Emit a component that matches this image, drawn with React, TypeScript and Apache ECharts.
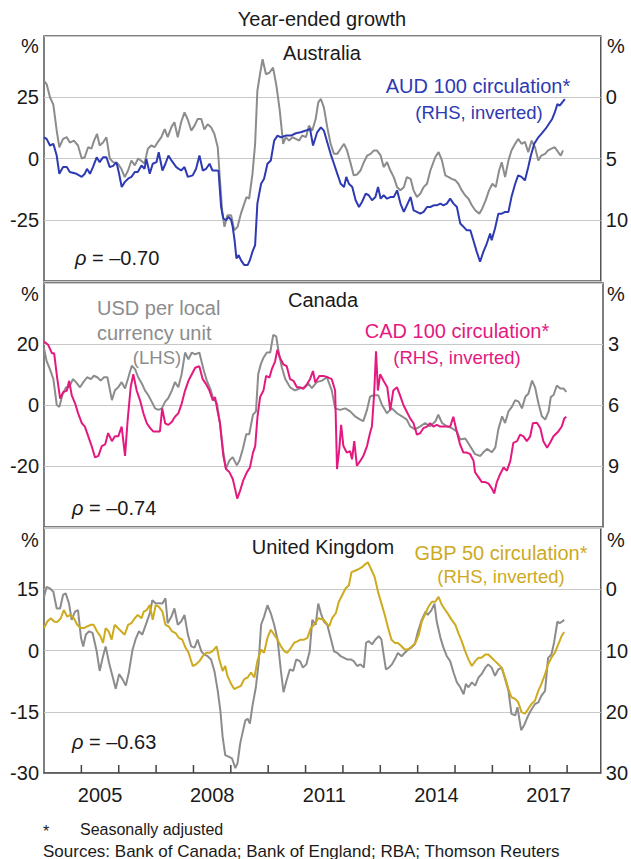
import React, { useEffect, useRef } from 'react';
import * as echarts from 'echarts';

const FONT = '"Liberation Sans", Arial, Helvetica, sans-serif';

const YEAR_LABELS = [2005, 2008, 2011, 2014, 2017];
const TICK_YEARS = [2005, 2006, 2007, 2008, 2009, 2010, 2011, 2012, 2013, 2014, 2015, 2016, 2017, 2018];

// Panel 1: Australia
const AU_FX: [number, number][] = [[2004.00,31.7],[2004.07,30.4],[2004.16,25],[2004.25,22],[2004.34,11.4],[2004.41,4.6],[2004.51,8],[2004.61,8.7],[2004.69,6.5],[2004.80,7.3],[2004.91,5.3],[2005.01,0],[2005.09,0.5],[2005.18,4.6],[2005.27,4],[2005.34,7.3],[2005.42,10],[2005.49,5.3],[2005.58,6.5],[2005.67,8.7],[2005.76,0],[2005.85,-1.5],[2005.98,-2.2],[2006.07,-4.2],[2006.16,-7.6],[2006.25,-4.9],[2006.34,-0.8],[2006.43,-2.8],[2006.52,0],[2006.61,-1],[2006.69,-2],[2006.78,4],[2006.87,5.3],[2006.96,4.6],[2007.05,6.8],[2007.14,8.7],[2007.23,12],[2007.31,8.7],[2007.41,12.8],[2007.49,14.8],[2007.58,8.7],[2007.67,14.8],[2007.76,18.8],[2007.85,15.8],[2007.94,11.4],[2008.03,13.4],[2008.11,16.1],[2008.21,16.1],[2008.29,11.8],[2008.38,14],[2008.47,12.8],[2008.56,10],[2008.65,4.6],[2008.71,-8.9],[2008.77,-21.8],[2008.83,-27.9],[2008.91,-23.2],[2009.01,-23.2],[2009.09,-29.3],[2009.18,-27.9],[2009.27,-22.5],[2009.36,-18.4],[2009.42,-15.7],[2009.49,-16.4],[2009.58,-6.2],[2009.65,6],[2009.71,27.6],[2009.78,34.4],[2009.85,40.5],[2009.94,34.4],[2010.03,35],[2010.13,37.1],[2010.22,29.7],[2010.31,19.5],[2010.40,6],[2010.47,8.7],[2010.56,7.3],[2010.65,8.7],[2010.74,8],[2010.83,7.3],[2010.91,9.4],[2011.01,8.7],[2011.09,13.4],[2011.18,11.4],[2011.27,16.1],[2011.34,22.9],[2011.41,24.3],[2011.49,20.9],[2011.58,12.8],[2011.67,6],[2011.76,1.9],[2011.85,1.9],[2011.94,4],[2012.03,6],[2012.11,3.3],[2012.21,-2.2],[2012.29,-6.9],[2012.38,-6.5],[2012.47,-4.9],[2012.56,-1.5],[2012.65,1.2],[2012.74,1.9],[2012.83,3.3],[2012.91,3.3],[2013.01,1.2],[2013.09,-3.5],[2013.18,-1.5],[2013.27,-4.9],[2013.36,-7.6],[2013.45,-11.7],[2013.54,-13],[2013.63,-11.7],[2013.71,-7.6],[2013.81,-8.3],[2013.89,-13],[2013.98,-15.7],[2014.07,-14.4],[2014.16,-11.7],[2014.25,-10.3],[2014.34,-4.9],[2014.47,0.5],[2014.56,2.6],[2014.65,-0.8],[2014.74,-6.9],[2014.83,-7.6],[2014.91,-8.3],[2015.01,-8.9],[2015.09,-10.3],[2015.18,-13],[2015.27,-15],[2015.36,-16.4],[2015.45,-19.1],[2015.54,-21.1],[2015.65,-22.5],[2015.73,-20.4],[2015.82,-17.1],[2015.91,-13],[2016.00,-10.3],[2016.09,-11.7],[2016.18,-4.9],[2016.25,-1.5],[2016.34,-7.6],[2016.43,-0.8],[2016.51,3.3],[2016.61,6],[2016.69,8],[2016.78,6],[2016.87,6.8],[2016.96,2.6],[2017.05,7.3],[2017.14,4.6],[2017.23,-0.8],[2017.31,1.2],[2017.41,1.9],[2017.49,3.3],[2017.58,4],[2017.67,4.6],[2017.76,2.6],[2017.83,1.2],[2017.89,3.3]];

const AU_AUD100: [number, number][] = [[2004.00,3.27],[2004.07,3.4],[2004.16,3.94],[2004.25,3.8],[2004.34,4.76],[2004.41,6.25],[2004.51,5.7],[2004.61,5.7],[2004.69,6.1],[2004.87,6.25],[2005.01,6.5],[2005.09,6.25],[2005.15,5.84],[2005.23,6.25],[2005.31,5.7],[2005.41,4.9],[2005.49,5.3],[2005.58,4.9],[2005.67,4.9],[2005.76,5.7],[2005.85,5.6],[2005.94,5.3],[2006.01,6.25],[2006.08,7.33],[2006.16,6.93],[2006.25,6.65],[2006.34,6.5],[2006.43,6.1],[2006.51,6.1],[2006.61,5.57],[2006.69,5.84],[2006.74,5.03],[2006.83,6.25],[2006.91,5.43],[2007.01,5.3],[2007.07,4.49],[2007.17,5.98],[2007.25,5.43],[2007.33,4.76],[2007.41,5.16],[2007.54,5.7],[2007.67,5.98],[2007.76,5.7],[2007.85,6.5],[2007.98,6.38],[2008.07,5.84],[2008.16,4.76],[2008.25,5.98],[2008.34,5.84],[2008.43,5.43],[2008.51,5.98],[2008.61,5.98],[2008.67,6.0],[2008.74,8.96],[2008.80,9.9],[2008.87,10.04],[2008.94,9.77],[2009.01,10.04],[2009.05,10.58],[2009.10,11.67],[2009.15,13.16],[2009.21,12.89],[2009.27,13.3],[2009.36,13.7],[2009.45,13.7],[2009.51,13.3],[2009.58,12.6],[2009.65,12.07],[2009.71,8.68],[2009.81,7.06],[2009.89,6.65],[2009.98,5.43],[2010.07,5.16],[2010.16,3.54],[2010.25,3.13],[2010.34,3.27],[2010.47,3.13],[2010.61,3.13],[2010.74,2.94],[2010.87,2.86],[2011.01,2.72],[2011.12,2.59],[2011.20,3.94],[2011.31,2.86],[2011.41,2.46],[2011.49,2.72],[2011.58,3.67],[2011.67,4.62],[2011.76,5.43],[2011.85,6.25],[2011.94,7.06],[2012.03,7.33],[2012.09,6.5],[2012.16,7.06],[2012.25,7.33],[2012.34,8.41],[2012.43,8.96],[2012.51,8.55],[2012.61,7.87],[2012.69,8.0],[2012.78,8.41],[2012.87,8.15],[2012.94,7.33],[2013.01,8.28],[2013.09,8.0],[2013.18,8.28],[2013.27,8.15],[2013.36,8.15],[2013.45,7.6],[2013.54,8.68],[2013.63,9.36],[2013.71,8.82],[2013.81,8.15],[2013.89,9.23],[2013.98,9.36],[2014.07,9.5],[2014.16,9.36],[2014.25,8.96],[2014.34,8.96],[2014.43,8.82],[2014.51,8.82],[2014.61,8.68],[2014.69,8.82],[2014.78,8.68],[2014.87,8.28],[2014.96,8.68],[2015.05,8.96],[2015.14,10.3],[2015.23,10.58],[2015.31,10.85],[2015.41,10.85],[2015.49,11.67],[2015.58,12.6],[2015.67,13.43],[2015.76,12.6],[2015.85,11.94],[2015.94,11.12],[2015.98,11.67],[2016.07,10.72],[2016.16,9.5],[2016.25,9.5],[2016.34,9.36],[2016.43,9.36],[2016.51,8.15],[2016.61,7.06],[2016.69,6.38],[2016.78,6.5],[2016.87,6.79],[2016.96,5.7],[2017.03,4.76],[2017.12,3.8],[2017.23,3.27],[2017.31,2.99],[2017.42,2.59],[2017.51,2.18],[2017.60,1.77],[2017.67,1.24],[2017.74,0.55],[2017.80,0.69],[2017.87,0.42],[2017.94,0.15]];

// Panel 2: Canada
const CA_FX: [number, number][] = [[2004.00,18.6],[2004.07,14.4],[2004.16,11.7],[2004.25,8.5],[2004.34,0],[2004.41,-0.6],[2004.50,3.7],[2004.59,5.8],[2004.67,5.8],[2004.77,8.5],[2004.85,7.5],[2004.96,5.8],[2005.05,7.5],[2005.15,9.1],[2005.25,8.5],[2005.33,9.6],[2005.42,9.1],[2005.51,8],[2005.60,9.1],[2005.69,9.1],[2005.81,1.6],[2005.89,4.8],[2005.98,5.8],[2006.07,7.5],[2006.16,5.4],[2006.25,9.1],[2006.34,12.9],[2006.43,11.7],[2006.51,9.1],[2006.61,7],[2006.69,4.8],[2006.78,3.2],[2006.87,1.1],[2006.96,-1.1],[2007.05,-1.6],[2007.14,-1.1],[2007.23,1.1],[2007.31,2.2],[2007.41,4.8],[2007.49,7.5],[2007.58,5.8],[2007.67,10.2],[2007.76,17.2],[2007.85,15],[2007.94,17.2],[2008.03,16.6],[2008.14,17.2],[2008.25,11.7],[2008.34,8],[2008.43,5.4],[2008.51,2.2],[2008.61,0.5],[2008.69,-5.9],[2008.78,-15.5],[2008.85,-20.9],[2008.94,-18.2],[2009.03,-17.1],[2009.14,-19.8],[2009.21,-18.2],[2009.30,-14.4],[2009.39,-9.6],[2009.47,-9.6],[2009.57,-3.2],[2009.65,-2.1],[2009.71,10.2],[2009.78,13.4],[2009.85,15.5],[2009.94,17.2],[2010.03,17.2],[2010.11,23],[2010.19,22.5],[2010.25,17.7],[2010.34,12.3],[2010.43,8.5],[2010.56,5.8],[2010.69,4.8],[2010.83,5.5],[2010.96,5.8],[2011.05,7],[2011.14,5.5],[2011.27,7.5],[2011.41,8],[2011.54,9.1],[2011.67,4.8],[2011.76,-1.1],[2011.89,-1.6],[2012.03,-1.1],[2012.16,-2.1],[2012.29,-3.7],[2012.43,-4.8],[2012.51,-5.3],[2012.61,-1.6],[2012.69,2.7],[2012.78,3.2],[2012.91,3.2],[2013.01,0],[2013.14,-2.7],[2013.27,-1.1],[2013.41,-2.7],[2013.54,-3.7],[2013.67,-4.8],[2013.76,-7],[2013.89,-8],[2014.03,-7],[2014.16,-5.9],[2014.29,-7],[2014.43,-5.4],[2014.51,-3.2],[2014.61,-5.9],[2014.74,-7],[2014.87,-7.6],[2015.01,-8.7],[2015.09,-11.3],[2015.23,-11],[2015.36,-13.5],[2015.49,-16.1],[2015.63,-16.7],[2015.71,-15.5],[2015.81,-14.4],[2015.94,-15.5],[2016.03,-13.9],[2016.11,-8],[2016.21,-3.7],[2016.29,-5.9],[2016.38,-2.1],[2016.47,-0.6],[2016.56,1.6],[2016.65,1.1],[2016.74,-1.1],[2016.83,2.7],[2016.91,3.7],[2017.01,8],[2017.09,5.8],[2017.18,0.5],[2017.27,-3.7],[2017.36,-4.8],[2017.45,-2.1],[2017.51,2.7],[2017.58,3.2],[2017.67,6.4],[2017.76,5.4],[2017.85,5.4],[2017.92,4.3]];

const CA_CAD100: [number, number][] = [[2004.00,2.88],[2004.11,3.04],[2004.21,3.45],[2004.27,3.45],[2004.35,4.65],[2004.43,5.69],[2004.51,5.37],[2004.61,5.29],[2004.67,4.81],[2004.74,5.53],[2004.83,5.93],[2004.91,6.41],[2005.01,6.9],[2005.09,7.06],[2005.18,7.54],[2005.27,8.02],[2005.36,8.58],[2005.45,8.5],[2005.54,8.02],[2005.63,7.94],[2005.71,7.38],[2005.81,7.78],[2005.89,7.54],[2005.98,7.54],[2006.07,7.06],[2006.16,8.5],[2006.23,6.74],[2006.31,5.13],[2006.38,4.49],[2006.47,5.29],[2006.56,5.77],[2006.65,6.41],[2006.74,6.9],[2006.83,7.14],[2006.91,7.3],[2007.01,7.3],[2007.09,7.3],[2007.15,6.17],[2007.23,6.9],[2007.31,6.98],[2007.41,6.82],[2007.49,6.58],[2007.58,6.41],[2007.67,5.93],[2007.76,5.29],[2007.85,4.81],[2007.94,4.49],[2008.03,4.17],[2008.14,4.09],[2008.23,4.73],[2008.32,4.97],[2008.41,5.29],[2008.50,5.77],[2008.56,5.61],[2008.62,6.25],[2008.69,6.9],[2008.78,8.5],[2008.85,9.15],[2008.94,9.3],[2009.03,9.63],[2009.09,10.1],[2009.15,10.6],[2009.23,10.2],[2009.31,9.71],[2009.41,9.3],[2009.49,9.07],[2009.57,8.34],[2009.63,8.02],[2009.69,6.58],[2009.76,5.61],[2009.85,5.29],[2009.92,4.57],[2010.01,4.65],[2010.07,4.25],[2010.16,3.85],[2010.22,3.28],[2010.29,3.69],[2010.38,4.0],[2010.47,4.09],[2010.56,4.73],[2010.65,4.81],[2010.74,5.13],[2010.83,5.13],[2010.91,5.21],[2011.01,4.97],[2011.09,4.73],[2011.17,4.33],[2011.23,4.89],[2011.34,4.57],[2011.45,4.57],[2011.58,4.65],[2011.67,4.73],[2011.76,5.29],[2011.81,9.15],[2011.87,8.18],[2011.92,6.98],[2011.98,8.02],[2012.07,8.34],[2012.16,8.27],[2012.21,8.67],[2012.27,7.78],[2012.34,8.99],[2012.43,8.75],[2012.51,8.51],[2012.61,8.02],[2012.69,7.38],[2012.74,7.06],[2012.80,5.45],[2012.85,3.36],[2012.90,5.29],[2012.96,4.49],[2013.05,4.81],[2013.15,5.13],[2013.23,6.25],[2013.31,5.29],[2013.41,5.13],[2013.49,5.53],[2013.58,6.0],[2013.67,6.33],[2013.76,6.66],[2013.85,6.9],[2013.94,7.46],[2014.03,7.38],[2014.11,7.14],[2014.21,7.06],[2014.29,6.9],[2014.38,7.06],[2014.47,6.98],[2014.56,7.06],[2014.65,7.06],[2014.74,7.06],[2014.83,7.06],[2014.91,6.58],[2015.01,7.38],[2015.09,7.94],[2015.18,8.34],[2015.27,8.34],[2015.36,8.42],[2015.45,8.75],[2015.49,9.31],[2015.58,9.55],[2015.67,9.79],[2015.76,9.79],[2015.85,9.87],[2015.94,10.11],[2016.00,10.35],[2016.07,9.79],[2016.16,9.39],[2016.25,9.07],[2016.34,9.23],[2016.43,8.75],[2016.51,7.86],[2016.61,7.78],[2016.69,7.46],[2016.78,7.54],[2016.87,7.78],[2016.96,7.54],[2017.03,6.9],[2017.14,6.87],[2017.23,7.14],[2017.31,7.78],[2017.41,8.1],[2017.49,7.86],[2017.58,7.54],[2017.71,7.3],[2017.80,7.06],[2017.87,6.66],[2017.92,6.58]];

// Panel 3: United Kingdom
const UK_FX: [number, number][] = [[2004.00,13.1],[2004.07,15.6],[2004.16,15.2],[2004.25,14.4],[2004.34,10.3],[2004.43,10.3],[2004.51,13.6],[2004.58,14],[2004.67,11.5],[2004.74,7.5],[2004.83,9.5],[2004.91,9.9],[2004.99,3.1],[2005.05,1],[2005.12,3.9],[2005.21,4.7],[2005.30,4.3],[2005.41,-0.2],[2005.49,-5],[2005.57,-1.8],[2005.65,1],[2005.74,-3],[2005.83,-6.2],[2005.92,-9.4],[2006.01,-5.8],[2006.10,-7],[2006.19,-8.6],[2006.27,-5.4],[2006.37,0.2],[2006.45,2.7],[2006.54,4.7],[2006.63,3.9],[2006.74,6.7],[2006.83,9.1],[2006.90,12.3],[2006.99,11.5],[2007.07,11.6],[2007.17,11.5],[2007.25,12.8],[2007.31,6.7],[2007.41,8.3],[2007.49,10.3],[2007.58,6.3],[2007.67,7.1],[2007.76,8.7],[2007.85,3.9],[2007.94,1],[2008.03,0.7],[2008.11,2.7],[2008.21,-0.2],[2008.29,-1],[2008.38,-1.4],[2008.47,-2.2],[2008.56,-5],[2008.65,-9.9],[2008.72,-14.7],[2008.78,-21.1],[2008.85,-25.6],[2008.94,-26],[2009.03,-26.4],[2009.12,-28.8],[2009.18,-27.6],[2009.25,-22.8],[2009.31,-20.3],[2009.39,-17.1],[2009.45,-16.7],[2009.51,-17.9],[2009.58,-13.5],[2009.67,-9],[2009.74,-3.4],[2009.81,6.3],[2009.89,8.3],[2009.98,11.1],[2010.07,9.1],[2010.16,6.3],[2010.25,2.7],[2010.34,-5],[2010.41,-10.2],[2010.49,-7.4],[2010.58,-4.6],[2010.67,-5],[2010.75,-2.2],[2010.85,-2.6],[2010.93,-4.2],[2011.02,-3.4],[2011.11,-0.2],[2011.18,7.5],[2011.27,6.3],[2011.34,11.5],[2011.41,9.1],[2011.49,7.1],[2011.58,6.3],[2011.67,3.1],[2011.76,-0.2],[2011.85,-0.6],[2011.94,-1.4],[2012.03,-1.8],[2012.11,-2.2],[2012.21,-2.2],[2012.29,-2.6],[2012.38,-3.8],[2012.47,-3.4],[2012.56,-4.2],[2012.62,1.9],[2012.69,2.3],[2012.78,1.5],[2012.87,2.7],[2012.96,3.5],[2013.03,2.7],[2013.09,-1],[2013.15,-4.6],[2013.23,-4.2],[2013.31,-3.4],[2013.41,-1.8],[2013.47,-0.6],[2013.57,-1.4],[2013.65,-0.6],[2013.74,0.2],[2013.83,0.7],[2013.92,1.5],[2014.01,4.7],[2014.11,7.5],[2014.21,9.5],[2014.27,8.7],[2014.37,9.9],[2014.45,11.5],[2014.51,7.1],[2014.61,3.1],[2014.69,0.7],[2014.78,-1.4],[2014.87,-2.6],[2014.96,-5.4],[2015.05,-7.8],[2015.14,-9],[2015.23,-10.7],[2015.29,-8.2],[2015.36,-9],[2015.45,-7.8],[2015.54,-8.6],[2015.63,-6.6],[2015.71,-5.8],[2015.81,-4.2],[2015.89,-3.4],[2015.98,-4.2],[2016.07,-6.2],[2016.16,-4.6],[2016.25,-4.2],[2016.34,-7],[2016.43,-9.9],[2016.51,-15.5],[2016.61,-15.9],[2016.67,-13.9],[2016.77,-19.5],[2016.85,-18.3],[2016.94,-16.3],[2017.03,-14.7],[2017.14,-13.1],[2017.23,-12.7],[2017.31,-11.1],[2017.41,-9.9],[2017.49,-1.8],[2017.58,-1],[2017.65,1.9],[2017.74,7.1],[2017.80,6.7],[2017.87,7.1],[2017.92,7.5]];

const UK_GBP50: [number, number][] = [[2004.00,6.34],[2004.09,5.27],[2004.18,4.73],[2004.27,5.27],[2004.35,5.37],[2004.45,4.73],[2004.53,3.39],[2004.62,4.47],[2004.71,4.19],[2004.80,4.73],[2004.89,5.81],[2004.98,6.34],[2005.07,6.34],[2005.15,6.08],[2005.25,5.81],[2005.33,5.81],[2005.42,6.89],[2005.51,7.69],[2005.58,8.76],[2005.65,6.34],[2005.73,6.89],[2005.81,8.23],[2005.89,5.81],[2005.98,6.34],[2006.07,6.89],[2006.16,7.42],[2006.25,5.81],[2006.34,5.53],[2006.43,4.73],[2006.51,4.19],[2006.61,4.73],[2006.67,3.66],[2006.75,3.39],[2006.83,2.58],[2006.91,5.0],[2006.99,2.58],[2007.07,2.85],[2007.17,3.66],[2007.25,5.81],[2007.34,6.08],[2007.43,6.89],[2007.52,7.15],[2007.61,7.95],[2007.70,8.23],[2007.79,9.56],[2007.87,10.37],[2007.98,12.53],[2008.07,12.26],[2008.16,11.73],[2008.25,10.92],[2008.34,10.37],[2008.43,10.37],[2008.51,10.11],[2008.62,9.31],[2008.69,11.45],[2008.78,13.34],[2008.85,12.53],[2008.91,14.15],[2009.01,15.48],[2009.09,16.29],[2009.18,16.02],[2009.27,15.76],[2009.36,14.68],[2009.45,14.41],[2009.54,13.6],[2009.63,14.41],[2009.71,11.73],[2009.81,9.84],[2009.89,10.37],[2009.98,7.95],[2010.07,6.61],[2010.16,7.42],[2010.25,8.23],[2010.34,9.31],[2010.43,10.11],[2010.51,10.37],[2010.61,9.56],[2010.69,8.76],[2010.78,8.5],[2010.87,8.23],[2010.96,8.23],[2011.05,7.95],[2011.14,6.34],[2011.23,5.81],[2011.34,4.73],[2011.49,5.0],[2011.63,6.08],[2011.71,4.73],[2011.81,3.92],[2011.89,2.05],[2011.98,0.97],[2012.07,-0.11],[2012.16,-0.65],[2012.23,-2.79],[2012.34,-3.06],[2012.43,-3.34],[2012.51,-3.6],[2012.61,-4.15],[2012.67,-4.4],[2012.77,-3.06],[2012.85,-1.98],[2012.94,0.44],[2013.03,2.31],[2013.12,4.19],[2013.21,6.34],[2013.30,8.23],[2013.39,8.76],[2013.47,8.76],[2013.57,9.31],[2013.65,9.84],[2013.74,9.84],[2013.85,9.31],[2013.94,8.76],[2014.03,7.42],[2014.11,5.27],[2014.21,3.92],[2014.29,2.85],[2014.38,2.05],[2014.47,2.05],[2014.56,1.24],[2014.65,2.58],[2014.74,3.39],[2014.83,4.19],[2014.91,5.0],[2015.01,5.81],[2015.09,7.15],[2015.18,8.5],[2015.27,10.11],[2015.36,11.45],[2015.45,12.53],[2015.54,11.73],[2015.63,11.18],[2015.71,11.18],[2015.81,10.65],[2015.89,10.65],[2015.98,11.18],[2016.07,11.73],[2016.16,12.26],[2016.25,12.8],[2016.34,14.41],[2016.43,16.29],[2016.51,17.63],[2016.61,17.9],[2016.69,18.44],[2016.78,20.05],[2016.87,20.32],[2016.96,19.52],[2017.05,18.71],[2017.14,18.17],[2017.23,16.56],[2017.31,15.48],[2017.41,13.87],[2017.49,12.26],[2017.58,11.18],[2017.67,10.37],[2017.76,9.03],[2017.85,7.69],[2017.92,6.98]];

const GRAY = '#8c8c8c';
const BLUE = '#2d3ab2';
const PINK = '#e3197f';
const GOLD = '#cdaa1e';
const TXT = '#1a1a1a';

function hideLabels(hidden: number[]) {
  return (v: number) => (hidden.includes(v) ? '' : String(v));
}

function leftAxis(grid: number, min: number, max: number, interval: number, hidden: number[]) {
  return {
    type: 'value', gridIndex: grid, position: 'left', min, max, interval,
    axisLine: { show: false }, axisTick: { show: false },
    splitLine: { show: true, lineStyle: { color: '#c8c8c8', width: 1.2 } },
    axisLabel: { formatter: hideLabels(hidden), color: TXT, fontSize: 20, fontFamily: FONT, margin: 5 },
  };
}

function rightAxis(grid: number, min: number, max: number, interval: number, hidden: number[]) {
  return {
    type: 'value', gridIndex: grid, position: 'right', inverse: true, min, max, interval,
    axisLine: { show: false }, axisTick: { show: false }, splitLine: { show: false },
    axisLabel: { formatter: hideLabels(hidden), color: TXT, fontSize: 20, fontFamily: FONT, margin: 5 },
  };
}

function txt(text: string, x: number, y: number, color: string, size: number, align = 'center', extra: any = {}) {
  return {
    type: 'text', x, y, silent: true,
    style: { text, fill: color, fontSize: size, fontFamily: FONT, align, verticalAlign: 'middle', ...extra },
  };
}

function rho(text: string, x: number, y: number) {
  return {
    type: 'text', x, y, silent: true,
    style: {
      text: '{i|ρ} = ' + text, fill: TXT, fontSize: 20, fontFamily: FONT, align: 'left', verticalAlign: 'middle',
      rich: { i: { fontStyle: 'italic', fontSize: 20, fontFamily: FONT, fill: TXT } },
    },
  };
}

export default function App() {
  const ref = useRef<HTMLDivElement>(null);
  useEffect(() => {
    document.body.style.margin = '0';
    if (!ref.current) return;
    const chart = echarts.init(ref.current, null, { renderer: 'svg' });
    const gridBase = { left: 44, right: 28, show: true, borderColor: '#555', borderWidth: 1.5, backgroundColor: 'transparent' };
    const xAxes = [0, 1, 2].map((i) => ({
      type: 'value', gridIndex: i, min: 2004, max: 2018.9, interval: 1, position: 'bottom',
      axisLine: { show: i === 2, onZero: false, lineStyle: { color: '#555', width: 1.5 } },
      splitLine: { show: false },
      axisTick: { show: false },
      axisLabel: i === 2 ? {
        show: true, align: 'left', margin: 12,
        formatter: (v: number) => (YEAR_LABELS.includes(v) ? '{y|' + v + '}' : ''),
        rich: { y: { width: 37.5, align: 'center', fontSize: 20, fontFamily: FONT, color: TXT } },
      } : { show: false },
    }));
    const line = (data: [number, number][], color: string, xi: number, yi: number, z = 2) => ({
      type: 'line', data, xAxisIndex: xi, yAxisIndex: yi, showSymbol: false, symbol: 'none', z,
      lineStyle: { color, width: 2 }, itemStyle: { color }, emphasis: { disabled: true },
    });
    chart.setOption({
      animation: false,
      grid: [
        { ...gridBase, top: 36, height: 245 },
        { ...gridBase, top: 283, height: 244 },
        { ...gridBase, top: 528, height: 245 },
      ],
      xAxis: xAxes,
      yAxis: [
        leftAxis(0, -50, 50, 25, [50, -50]),
        rightAxis(0, -5, 15, 5, [-5, 15]),
        leftAxis(1, -40, 40, 20, [40, -40]),
        rightAxis(1, 0, 12, 3, [0, 12]),
        leftAxis(2, -30, 30, 15, [30]),
        rightAxis(2, -10, 30, 10, [-10]),
      ],
      series: [
        line(AU_FX, GRAY, 0, 0, 2),
        line(AU_AUD100, BLUE, 0, 1, 3),
        line(CA_FX, GRAY, 1, 2, 2),
        line(CA_CAD100, PINK, 1, 3, 3),
        line(UK_FX, GRAY, 2, 4, 2),
        line(UK_GBP50, GOLD, 2, 5, 3),
        {
          type: 'custom', xAxisIndex: 2, yAxisIndex: 4, z: 5, silent: true, clip: false,
          data: TICK_YEARS.map((y) => [y, -30]),
          renderItem: (_params: any, api: any) => {
            const p = api.coord([api.value(0), api.value(1)]);
            return {
              type: 'line',
              shape: { x1: p[0], y1: p[1], x2: p[0], y2: p[1] - 8 },
              style: { stroke: '#444', lineWidth: 1.5 },
            };
          },
        },
      ],
      graphic: [
        txt('Year-ended growth', 322, 19, TXT, 20),
        txt('%', 30, 46, TXT, 20), txt('%', 616, 46, TXT, 20),
        txt('%', 30, 294, TXT, 20), txt('%', 616, 294, TXT, 20),
        txt('%', 30, 540, TXT, 20), txt('%', 616, 540, TXT, 20),
        txt('Australia', 322, 53, TXT, 20),
        txt('AUD 100 circulation*', 478, 86, BLUE, 20),
        txt('(RHS, inverted)', 479, 112, BLUE, 18.5),
        rho('–0.70', 75, 258),
        txt('Canada', 323, 300, TXT, 20),
        txt('USD per local', 97, 308, GRAY, 20, 'left'),
        txt('currency unit', 97, 333, GRAY, 20, 'left'),
        txt('(LHS)', 157, 357, GRAY, 18.5),
        txt('CAD 100 circulation*', 457, 331, PINK, 20),
        txt('(RHS, inverted)', 457, 357, PINK, 18.5),
        rho('–0.74', 72, 508),
        txt('United Kingdom', 323, 547, TXT, 20),
        txt('GBP 50 circulation*', 501, 553, GOLD, 20),
        txt('(RHS, inverted)', 501, 576, GOLD, 18.5),
        rho('–0.63', 72, 742),
        txt('*', 43, 831, TXT, 16, 'left'),
        txt('Seasonally adjusted', 80, 829, TXT, 16, 'left'),
        txt('Sources: Bank of Canada; Bank of England; RBA; Thomson Reuters', 43, 851, TXT, 17, 'left'),
      ],
    });
    return () => chart.dispose();
  }, []);
  return <div ref={ref} style={{ width: 631, height: 859 }} />;
}
